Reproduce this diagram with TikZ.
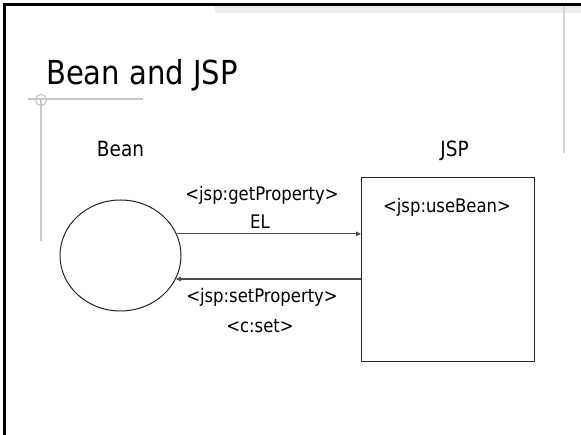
\documentclass[tikz,border=0pt]{standalone}
\usepackage{fontspec}
\setmainfont{DejaVu Sans}[FakeStretch=0.88]
\usetikzlibrary{arrows.meta,shapes.geometric}
\begin{document}
\begin{tikzpicture}[x=1pt,y=-1pt,
  lbl/.style={inner sep=0pt,anchor=base,font=\fontsize{18.7}{22}\selectfont},
  hdr/.style={inner sep=0pt,anchor=base,font=\fontsize{21}{25}\selectfont},
  deco/.style={draw=black!22,line width=1.2pt},
  link/.style={draw=black!70,line width=1.1pt,-{Triangle[length=5pt,width=4.5pt]}},
  outline/.style={draw=black!85,line width=1pt}]
\useasboundingbox (0,0) rectangle (581,435);
\fill[white] (0,0) rectangle (581,435);
% decoration
\fill[black!7] (215,6.5) rectangle (581,13);
\draw[black!16,line width=2pt] (564,6) -- (564,153);
\draw[line width=3pt,line cap=rect] (4.3,435) -- (4.3,5) -- (581,5);
\draw[deco] (28,99) -- (143,99);
\draw[deco] (41,100) circle[radius=5.5pt];
\draw[deco] (41,100) -- (41,241);
% title
\node[anchor=base west,inner sep=0pt,font=\fontsize{33}{38}\selectfont] (title) at (46,85) {Bean and JSP};
% headers
\node[hdr] (beanlbl) at (120.5,157) {Bean};
\node[hdr] (jsplbl) at (454.5,157) {JSP};
% shapes
\node[ellipse,outline,minimum width=121pt,minimum height=111pt,inner sep=0pt] (bean) at (120.5,255.5) {};
\node[rectangle,outline,minimum width=173pt,minimum height=184pt,inner sep=0pt,anchor=north west] (jsp) at (361,177) {};
\node[lbl] (use) at (447,213) {<jsp:useBean>};
% connectors
\draw[link] (bean.21.07) -- (bean.21.07 -| jsp.west);
\draw[link] (bean.-23.2 -| jsp.west) -- (bean.-23.2);
% labels
\node[lbl] (get) at (262,201) {<jsp:getProperty>};
\node[lbl] (el) at (260,229) {EL};
\node[lbl] (set) at (262,303) {<jsp:setProperty>};
\node[lbl] (cset) at (260,333) {<c:set>};
\end{tikzpicture}
\end{document}
